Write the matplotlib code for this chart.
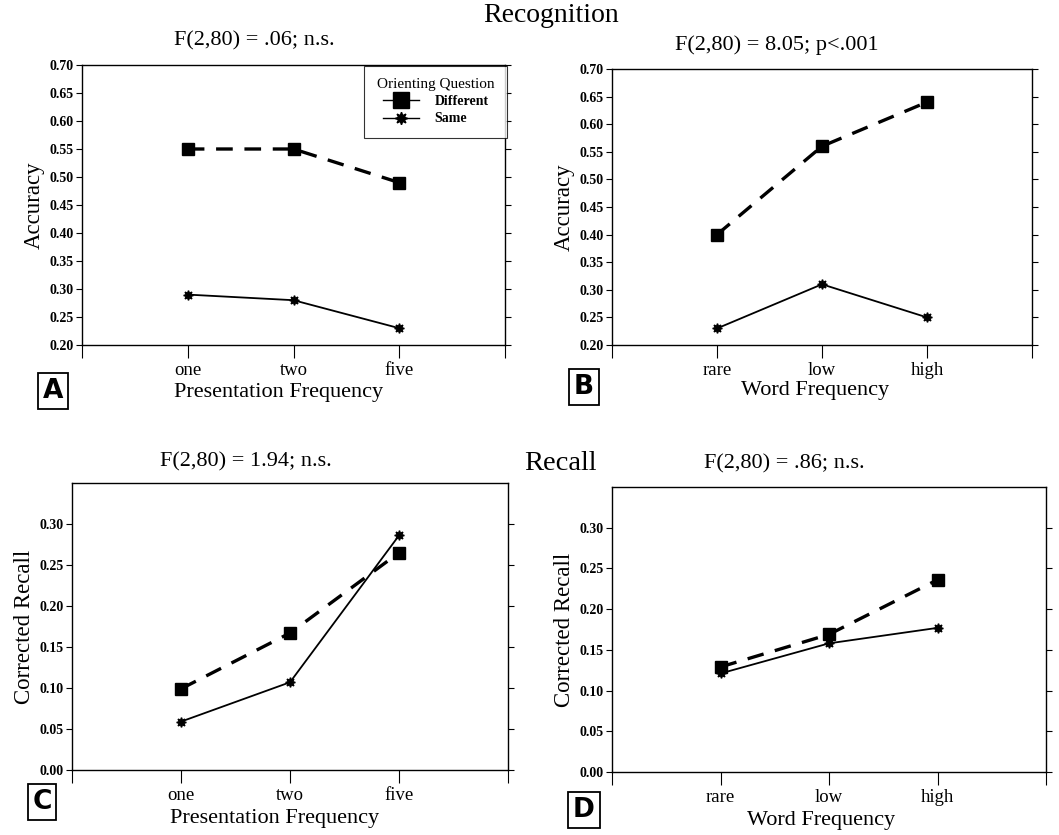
import numpy as np
import matplotlib.pyplot as plt
from matplotlib.lines import Line2D

plt.rcParams['font.family'] = ['Liberation Serif', 'DejaVu Serif']

# data
pres_freq = ["one", "two", "five"]
word_freq = ["rare", "low", "high"]

acc_pres_diff = [0.55, 0.55, 0.49]
acc_pres_same = [0.29, 0.28, 0.23]
acc_word_diff = [0.40, 0.56, 0.64]
acc_word_same = [0.23, 0.31, 0.25]

rec_pres_diff = [0.099, 0.167, 0.265]
rec_pres_same = [0.059, 0.107, 0.286]
rec_word_diff = [0.129, 0.169, 0.236]
rec_word_same = [0.121, 0.158, 0.177]

W, H = 1059, 835
fig = plt.figure(figsize=(W / 100, H / 100), dpi=100)


def px_axes(left, top, right, bottom):
    return fig.add_axes([left / W, 1 - bottom / H, (right - left) / W, (bottom - top) / H])


def px_text(x, y, s, **kw):
    fig.text(x / W, 1 - y / H, s, ha='center', va='center', **kw)


def draw_panel(ax, cats, diff, same, ylim, yticks, ylabel):
    x = np.arange(1, len(cats) + 1)
    ax.plot(x, diff, color='black', lw=2.4, ls=(0, (5, 3.5)), marker='s', ms=9)
    ax.plot(x, same, color='black', lw=1.3, ls='-', marker=(8, 1, 0), ms=7)
    ax.set_xlim(0, len(cats) + 1)
    ax.set_ylim(*ylim)
    ax.set_yticks(yticks)
    ax.set_yticklabels(["%.2f" % v for v in yticks], fontsize=10, fontweight='bold')
    ax.set_xticks(np.arange(0, len(cats) + 2))
    ax.set_xticklabels([""] + cats + [""], fontsize=13.5)
    ax.tick_params(axis='y', direction='out', length=4, width=0.8, right=True, pad=2)
    ax.tick_params(axis='x', direction='out', length=9, width=0.8, pad=3)
    for s in ax.spines.values():
        s.set_linewidth(1.0)
    ax.set_ylabel(ylabel, fontsize=16.5, labelpad=3)


def letter_box(x, y, letter):
    px_text(x, y, letter, fontsize=19, fontweight='bold', family='DejaVu Sans',
            bbox=dict(boxstyle='square,pad=0.18', fc='white', ec='black', lw=1.3))


axA = px_axes(82, 65, 505, 345)
draw_panel(axA, pres_freq, acc_pres_diff, acc_pres_same, (0.20, 0.70),
           np.arange(0.20, 0.701, 0.05), "Accuracy")
handles = [Line2D([], [], color='black', lw=1.0, marker='s', ms=11),
           Line2D([], [], color='black', lw=1.0, marker=(8, 1, 0), ms=9)]
leg = axA.legend(handles, ["Different", "Same"], title="Orienting Question",
                 loc='upper right', bbox_to_anchor=(1.005, 0.998), frameon=True,
                 fancybox=False, edgecolor='black',
                 prop={'size': 10, 'weight': 'bold'}, handlelength=2.6,
                 handletextpad=1.1, borderpad=0.9, labelspacing=0.3,
                 borderaxespad=0)
leg.get_title().set_fontsize(11)
leg.get_frame().set_linewidth(0.8)
px_text(254, 41, "F(2,80) = .06; n.s.", fontsize=16)
px_text(279, 392, "Presentation Frequency", fontsize=16)
letter_box(53, 391, "A")

axB = px_axes(612, 69, 1032, 345)
draw_panel(axB, word_freq, acc_word_diff, acc_word_same, (0.20, 0.70),
           np.arange(0.20, 0.701, 0.05), "Accuracy")
px_text(777, 45, "F(2,80) = 8.05; p<.001", fontsize=16)
px_text(815, 391, "Word Frequency", fontsize=16)
letter_box(584, 387, "B")

axC = px_axes(72, 483, 508, 770)
draw_panel(axC, pres_freq, rec_pres_diff, rec_pres_same, (0.0, 0.35),
           np.arange(0.0, 0.301, 0.05), "Corrected Recall")
px_text(246, 462, "F(2,80) = 1.94; n.s.", fontsize=16)
px_text(275, 818, "Presentation Frequency", fontsize=16)
letter_box(42, 802, "C")

axD = px_axes(612, 487, 1046, 772)
draw_panel(axD, word_freq, rec_word_diff, rec_word_same, (0.0, 0.35),
           np.arange(0.0, 0.301, 0.05), "Corrected Recall")
px_text(784, 464, "F(2,80) = .86; n.s.", fontsize=16)
px_text(821, 820, "Word Frequency", fontsize=16)
letter_box(584, 810, "D")

px_text(551, 15, "Recognition", fontsize=20)
px_text(560, 463, "Recall", fontsize=20.5)

fig.savefig("out.png", dpi=100)
